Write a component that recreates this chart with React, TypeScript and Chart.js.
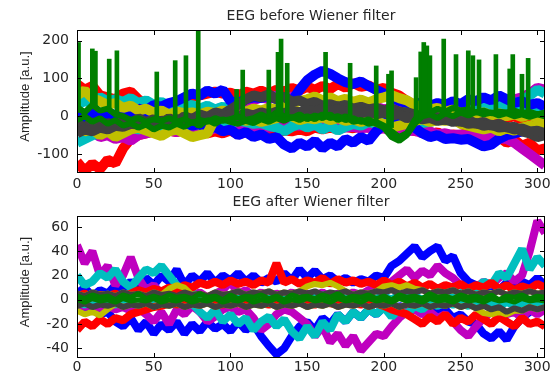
import React, { useEffect, useRef } from "react";
import { Chart, registerables } from "chart.js";

Chart.register(...registerables);

// ---- x grid (time) ----
const X = [
  0, 5, 10, 15, 20, 25, 30, 35, 40, 45,
  50, 55, 60, 65, 70, 75, 80, 85, 90, 95,
  100, 105, 110, 115, 120, 125, 130, 135, 140, 145,
  150, 155, 160, 165, 170, 175, 180, 185, 190, 195,
  200, 205, 210, 215, 220, 225, 230, 235, 240, 245,
  250, 255, 260, 265, 270, 275, 280, 285, 290, 295,
  300, 305,
];

// ---- EEG before Wiener filter ----
const T_RED_1 = [
  85, 70, 80, 55, 50, 45, 60, 65, 45, 30,
  25, 28, 32, 38, 45, 52, 55, 60, 65, 60,
  62, 55, 65, 60, 68, 60, 70, 65, 75, 68,
  78, 70, 80, 72, 85, 75, 88, 78, 82, 70,
  75, 62, 55, 40, 30, 25, 20, 25, 15, 20,
  10, 15, 5, 10, 0, 5, -5, 0, -10, -5,
  -15, -10,
];
const T_RED_2 = [
  -120, -145, -125, -140, -115, -125, -85, -60, -50, -45,
  -40, -45, -38, -42, -35, -40, -38, -45, -40, -45,
  -38, -48, -42, -50, -45, -40, -45, -38, -40, -35,
  -40, -30, -35, -30, -35, -28, -32, -25, -30, -25,
  -28, -20, -25, -30, -40, -35, -50, -42, -55, -48,
  -50, -42, -55, -48, -62, -55, -70, -62, -78, -70,
  -90, -85,
];
const T_MAG_1 = [
  -15, -25, -10, -20, -5, -15, 0, -10, 5, -5,
  8, 0, 10, 5, 12, 8, 15, 10, 18, 22,
  20, 28, 35, 42, 50, 45, 55, 48, 52, 42,
  35, 38, 30, 35, 28, 30, 25, 28, 20, 25,
  18, 22, 15, 20, 25, 30, 25, 30, 22, 28,
  25, 30, 28, 32, 30, 35, 40, 45, 50, 60,
  75, 70,
];
const T_MAG_2 = [
  -35, -45, -40, -55, -50, -60, -55, -65, -50, -45,
  -40, -45, -38, -42, -35, -40, -35, -38, -32, -35,
  -30, -35, -28, -32, -25, -30, -25, -28, -22, -25,
  -20, -25, -22, -28, -25, -30, -28, -32, -30, -35,
  -32, -38, -35, -40, -38, -45, -40, -48, -45, -50,
  -48, -52, -50, -55, -55, -58, -60, -70, -85, -100,
  -115, -130,
];
const T_CYAN_1 = [
  30, 40, 35, 50, 40, 45, 38, 48, 35, 42,
  30, 38, 28, 35, 25, 30, 20, 28, 18, 25,
  15, 20, 10, 15, 5, 10, 0, 5, -5, 0,
  -5, 2, -3, 5, 0, 8, 2, 10, 5, 12,
  8, 15, 10, 12, 5, 10, 2, 8, 0, 5,
  10, 15, 20, 25, 20, 30, 25, 35, 40, 55,
  70, 60,
];
const T_CYAN_2 = [
  -70, -60, -50, -45, -40, -35, -38, -30, -35, -28,
  -32, -25, -30, -22, -25, -20, -22, -18, -20, -15,
  -18, -12, -15, -20, -18, -25, -30, -40, -28, -20,
  -30, -22, -35, -25, -38, -28, -20, -25, -15, -20,
  -10, -15, -5, -10, -12, -18, -15, -10, -5, -10,
  0, -5, 5, 0, 10, 5, 15, 10, 20, 15,
  25, 20,
];
const T_BLUE_1 = [
  5, -5, 8, 0, 10, 2, 12, 5, 20, 15,
  30, 25, 35, 40, 50, 60, 55, 68, 60, 70,
  40, 35, 45, 50, 48, 55, 45, 50, 40, 70,
  95, 110, 120, 112, 100, 90, 85, 92, 80, 70,
  60, 50, 40, 35, 30, 38, 28, 35, 30, 40,
  32, 45, 40, 50, 42, 55, 45, 35, 40, 30,
  35, 25,
];
const T_BLUE_2 = [
  -15, -5, -12, -2, -10, -3, -8, 5, -5, 8,
  0, 10, 2, -5, -15, -25, -20, -35, -28, -40,
  -35, -50, -42, -55, -48, -60, -55, -75, -85, -70,
  -80, -65, -85, -70, -80, -60, -70, -55, -65, -40,
  -20, -10, -5, -15, -30, -45, -55, -50, -60, -58,
  -62, -60, -70, -80, -75, -60, -50, -45, -40, -35,
  -30, -25,
];
const T_YEL_1 = [
  55, 68, 48, 40, 30, 35, 22, 28, 15, 20,
  10, 15, 5, 12, 8, 10, 5, 12, 8, 15,
  10, 18, 12, 20, 15, 22, 18, 28, 32, 40,
  45, 52, 42, 50, 40, 46, 38, 44, 36, 45,
  50, 56, 48, 42, 30, 25, 18, 22, 12, 18,
  8, 12, 5, 10, 2, 8, 0, 5, -2, 4,
  -5, 0,
];
const T_YEL_2 = [
  -30, -40, -35, -50, -40, -55, -45, -35, -30, -38,
  -45, -52, -40, -35, -45, -55, -50, -45, -5, 5,
  -10, -5, -12, -8, -15, -10, -5, 5, 0, -10,
  -5, -8, -2, -10, -5, -12, -8, -15, -10, -15,
  -20, -30, -25, -20, -12, -8, -15, -10, -12, -8,
  -20, -25, -30, -35, -30, -40, -32, -38, -30, -25,
  -30, -20,
];
const T_GRAY_1 = [
  -20, -30, -15, -28, -18, -25, -10, -20, -5, -15,
  -8, -18, -5, -15, 0, -8, 5, -2, 10, 5,
  18, 30, 45, 55, 50, 58, 45, 52, 38, 42,
  32, 38, 28, 32, 25, 30, 20, 25, 18, 22,
  15, 20, 12, 10, 5, 0, -5, -2, -10, -5,
  -15, -10, -20, -15, -25, -20, -30, -28, -40, -45,
  -55, -50,
];
const T_GRAY_2 = [
  -45, -35, -40, -30, -35, -25, -28, -20, -22, -15,
  -20, -12, -15, -8, -12, -5, -10, -2, -8, 0,
  5, 0, 8, 2, 10, 5, 12, 8, 15, 10,
  18, 12, 20, 15, 18, 12, 15, 8, 12, 5,
  10, 2, 5, -5, 0, -8, -5, -12, -8, -15,
  -12, -20, -18, -25, -22, -30, -28, -35, -32, -40,
  -38, -45,
];
const T_GREEN_1 = [
  25, 10, 30, 15, 20, 5, 0, -10, -5, -15,
  -8, -12, -5, -15, -8, -18, -10, -15, -5, -12,
  -8, 0, -10, -5, 5, -5, 10, 0, -5, 5,
  -8, 2, -5, 5, -10, 0, -15, -10, -20, -15,
  -25, -40, -55, -45, -10, 15, 10, 20, 12, 22,
  15, 18, 10, 15, 8, 12, 10, 15, 8, 12,
  5, 10,
];
const T_GREEN_2 = [
  -10, 0, -15, -5, -20, -10, -25, -18, -30, -22,
  -35, -25, -30, -20, -28, -15, -25, -10, -20, -8,
  -15, -20, -12, -18, -8, -15, -5, -12, -2, -10,
  0, -8, 5, -5, 0, -10, -5, -15, -8, -20,
  -30, -55, -65, -50, -20, 0, 5, -5, 8, 0,
  10, 2, 12, 5, 10, 2, 8, 0, 5, -2,
  5, 0,
];
// green artefact spikes (time, base, peak)
const SPIKE_X = [1, 10, 12, 21, 26, 52, 64, 71, 79, 104, 108, 125, 131, 133, 137, 162, 178, 195, 203, 205, 221, 224, 226, 228, 230, 239, 247, 255, 258, 262, 273, 282, 284, 290, 294];
const SPIKE_BASE = [10, 20, 20, 15, 5, -10, -10, -15, -30, 0, -5, -5, 0, 0, 0, -5, -10, -15, -30, -30, -10, 10, 10, 10, 10, 15, 15, 15, 15, 10, 10, 10, 10, 10, 10];
const SPIKE_TOP = [195, 178, 172, 151, 173, 117, 147, 160, 230, 71, 122, 122, 169, 204, 140, 169, 140, 133, 111, 120, 102, 170, 195, 186, 160, 204, 163, 173, 160, 149, 163, 125, 163, 111, 153];

// ---- EEG after Wiener filter ----
const B_BLUE_1 = [
  5, 10, 3, 8, 5, 12, 8, 15, 10, 18,
  12, 20, 15, 25, 12, 20, 15, 22, 14, 20,
  16, 22, 15, 20, 14, 18, 15, 22, 16, 25,
  18, 24, 17, 20, 15, 18, 14, 17, 15, 20,
  18, 28, 32, 38, 44, 35, 40, 44, 32, 36,
  22, 15, 12, 10, 12, 8, 14, 10, 15, 12,
  18, 12,
];
const B_BLUE_2 = [
  -5, -10, -8, -12, -10, -18, -22, -15, -25, -18,
  -28, -20, -25, -18, -28, -20, -26, -18, -24, -20,
  -26, -18, -25, -20, -30, -38, -45, -40, -30, -22,
  -18, -25, -15, -20, -12, -18, -10, -15, -8, -12,
  -6, -10, -5, -8, -5, -10, -6, -12, -8, -15,
  -12, -18, -20, -28, -32, -26, -33, -22, -15, -10,
  -8, -5,
];
const B_MAG_1 = [
  45, 30, 40, 20, 28, 12, 20, 35, 18, 8,
  12, 5, 10, 4, 8, 3, 6, 2, 5, 8,
  15, 5, 8, 3, 6, 2, 5, 3, 6, 2,
  5, 3, 6, 2, 5, 3, 6, 4, 8, 10,
  12, 15, 20, 25, 18, 24, 20, 28, 22, 18,
  12, 8, 10, 15, 12, 18, 22, 15, 20, 40,
  65, 55,
];
const B_MAG_2 = [
  -3, -6, -4, -7, -5, -8, -6, -9, -7, -12,
  -18, -10, -20, -8, -12, -5, -10, -18, -14, -8,
  -6, -10, -8, -15, -25, -20, -12, -8, -10, -15,
  -20, -30, -22, -35, -28, -38, -30, -42, -35, -28,
  -30, -22, -15, -10, -8, -12, -10, -15, -12, -18,
  -25, -30, -22, -15, -10, -8, -12, -10, -15, -8,
  -12, -8,
];
const B_CYAN_1 = [
  20, 12, 15, 22, 18, 25, 15, 10, 18, 25,
  22, 28, 20, 12, 8, 5, 3, 2, 4, 1,
  3, 0, 3, 1, 4, 0, 3, 1, 3, 0,
  3, 1, 4, 0, 3, 1, 3, 0, 2, 1,
  3, 0, 4, 1, 3, 0, 2, 1, 3, 2,
  5, 10, 8, 15, 12, 22, 18, 30, 42, 25,
  35, 28,
];
const B_CYAN_2 = [
  -2, -4, -1, -3, -2, -4, -1, -3, -2, -4,
  -1, -3, -2, -4, -1, -3, -10, -15, -8, -18,
  -12, -20, -15, -25, -18, -14, -22, -16, -26, -32,
  -22, -30, -18, -25, -12, -18, -10, -15, -8, -12,
  -6, -14, -8, -12, -5, -8, -3, -5, -2, -4,
  -3, -5, -2, -4, -3, -5, -2, -4, -3, -5,
  -2, -4,
];
const B_RED_1 = [
  3, 5, 2, 4, 3, 5, 2, 5, 8, 6,
  9, 7, 10, 8, 12, 10, 14, 12, 15, 12,
  16, 13, 15, 12, 16, 14, 30, 14, 17, 13,
  16, 14, 18, 13, 17, 14, 16, 13, 15, 12,
  16, 12, 15, 11, 14, 10, 13, 9, 12, 10,
  13, 9, 12, 10, 14, 9, 12, 8, 11, 9,
  13, 10,
];
const B_RED_2 = [
  -25, -18, -22, -16, -20, -15, -17, -12, -10, -8,
  -6, -5, -3, -4, -2, -3, -4, -2, -3, -4,
  -2, -3, -4, -2, -3, -4, -2, -3, -4, -2,
  -3, -4, -2, -3, -4, -2, -3, -4, -2, -3,
  -5, -8, -10, -12, -16, -20, -14, -18, -12, -20,
  -15, -18, -12, -16, -20, -14, -18, -22, -15, -20,
  -18, -22,
];
const B_YEL_1 = [
  5, 3, 6, 4, 5, 3, 6, 4, 5, 3,
  6, 4, 9, 12, 10, 4, 5, 3, 6, 4,
  5, 7, 4, 6, 5, 7, 4, 6, 5, 7,
  11, 13, 12, 14, 11, 7, 4, 6, 5, 7,
  11, 12, 10, 12, 9, 8, 5, 7, 6, 8,
  5, 7, 4, 6, 5, 7, 4, 6, 5, 7,
  5, 6,
];
const B_YEL_2 = [
  -9, -12, -10, -13, -8, -3, -6, -4, -5, -3,
  -6, -4, -5, -3, -6, -4, -5, -3, -6, -4,
  -5, -3, -6, -4, -5, -3, -6, -4, -5, -3,
  -6, -4, -5, -3, -6, -4, -5, -3, -6, -4,
  -5, -3, -6, -4, -5, -3, -6, -4, -5, -3,
  -6, -4, -7, -11, -12, -10, -12, -9, -9, -6,
  -8, -6,
];
const B_GRAY_1 = [
  5, 3, 6, 4, 5, 3, 6, 4, 5, 3,
  6, 4, 5, 3, 6, 4, 5, 3, 6, 4,
  5, 7, 4, 6, 5, 7, 4, 6, 5, 7,
  5, 7, 4, 6, 5, 7, 4, 6, 5, 7,
  6, 8, 5, 7, 6, 8, 5, 7, 6, 8,
  5, 7, 4, 6, 5, 7, 4, 6, 5, 7,
  5, 6,
];
const B_GRAY_2 = [
  -5, -3, -6, -4, -5, -3, -6, -4, -5, -3,
  -6, -4, -5, -3, -6, -4, -5, -3, -6, -4,
  -5, -3, -6, -4, -5, -3, -6, -4, -5, -3,
  -6, -4, -5, -3, -6, -4, -5, -3, -6, -4,
  -5, -3, -6, -4, -5, -3, -6, -4, -5, -3,
  -6, -4, -7, -5, -8, -6, -10, -7, -9, -6,
  -8, -6,
];
const B_GREEN_1 = [
  3, 1, 4, 2, 3, 0, 4, 2, 5, 1,
  3, 1, 4, 2, 3, 1, 5, 2, 3, 0,
  4, 1, 3, 2, 4, 1, 3, 0, 4, 2,
  3, 1, 4, 2, 5, 1, 3, 2, 4, 1,
  3, 0, 4, 2, 3, 1, 5, 2, 3, 1,
  4, 2, 3, 1, 4, 0, 3, 2, 4, 1,
  3, 2,
];
const B_GREEN_2 = [
  0, -2, 1, -1, 0, -2, 1, -1, 0, -1,
  1, -2, 0, -1, 1, -2, 0, -1, 1, -2,
  0, -1, 1, -2, 0, -1, 1, -2, 0, -1,
  1, -1, 0, -2, 1, -1, 0, -2, 1, -1,
  0, -2, 1, -1, 0, -2, 1, -1, 0, -2,
  1, -1, 0, -2, 1, -1, 0, -2, 1, -1,
  0, -1,
];

const X_TICK_STEP = 50;
const Y_LABEL = "Amplitude [a.u.]";
const TITLE_TOP = "EEG before Wiener filter";
const TITLE_BOTTOM = "EEG after Wiener filter";

const C = {
  blue: "#0000ff",
  red: "#ff0000",
  green: "#007f00",
  cyan: "#00bfbf",
  magenta: "#bf00bf",
  yellow: "#bfbf00",
  gray: "#404040",
};

const TEXT = "#262626";
const TICK_FONT = { family: "'DejaVu Sans', sans-serif", size: 14 };

function line(vals: number[], color: string, width: number) {
  return {
    type: "line" as const,
    data: X.map((x, i) => ({ x, y: vals[i] })),
    borderColor: color,
    backgroundColor: color,
    borderWidth: width,
    pointRadius: 0,
    tension: 0,
    fill: false,
    clip: 0,
    borderJoinStyle: "bevel" as const,
  };
}

const boxPlugin = {
  id: "matlabBox",
  afterDraw(chart: any, _args: any, opts: any) {
    const { ctx, chartArea } = chart;
    const { left, right, top, bottom } = chartArea;
    const xs = chart.scales.x;
    const ys = chart.scales.y;
    ctx.save();
    ctx.strokeStyle = "#000";
    ctx.lineWidth = 1;
    ctx.strokeRect(left + 0.5, top + 0.5, right - left - 1, bottom - top - 1);
    const L = 5;
    ctx.beginPath();
    xs.ticks.forEach((t: any) => {
      const px = Math.round(xs.getPixelForValue(t.value)) + 0.5;
      ctx.moveTo(px, bottom);
      ctx.lineTo(px, bottom - L);
      ctx.moveTo(px, top);
      ctx.lineTo(px, top + L);
    });
    ys.ticks.forEach((t: any) => {
      const py = Math.round(ys.getPixelForValue(t.value)) + 0.5;
      ctx.moveTo(left, py);
      ctx.lineTo(left + L, py);
      ctx.moveTo(right, py);
      ctx.lineTo(right - L, py);
    });
    ctx.stroke();
    // y axis label
    ctx.fillStyle = TEXT;
    ctx.font = "13px 'Liberation Sans', Arial, sans-serif";
    ctx.textAlign = "center";
    ctx.textBaseline = "middle";
    ctx.translate(opts.labelX, (top + bottom) / 2 + opts.labelDy);
    ctx.rotate(-Math.PI / 2);
    ctx.fillText(opts.label, 0, 0);
    ctx.restore();
  },
};

type PanelProps = {
  title: string;
  datasets: any[];
  ymin: number;
  ymax: number;
  ystep: number;
  titlePadTop: number;
  titlePadBottom: number;
  xAxisHeight: number;
  xLabelPad: number;
  top: number;
};

function Panel(p: PanelProps) {
  const ref = useRef<HTMLCanvasElement>(null);
  useEffect(() => {
    const n = p.datasets.length;
    const ds = p.datasets.map((d, i) => ({ ...d, order: n - i }));
    const chart = new Chart(ref.current as HTMLCanvasElement, {
      type: "line",
      data: { datasets: ds },
      plugins: [boxPlugin],
      options: {
        responsive: false,
        animation: false,
        events: [],
        layout: { padding: { left: 0, right: 13, top: 0, bottom: 0 } },
        plugins: {
          legend: { display: false },
          tooltip: { enabled: false },
          title: {
            display: true,
            fullSize: false,
            text: p.title,
            color: TEXT,
            font: { family: "'DejaVu Sans', sans-serif", size: 14, weight: "normal" },
            padding: { top: p.titlePadTop, bottom: p.titlePadBottom },
          },
          matlabBox: { label: Y_LABEL, labelX: 25, labelDy: -5 },
        } as any,
        scales: {
          x: {
            type: "linear",
            min: 0,
            max: 305,
            offset: false,
            grid: { display: false, drawTicks: false, offset: false },
            border: { display: false },
            ticks: {
              stepSize: X_TICK_STEP,
              includeBounds: false,
              color: TEXT,
              font: TICK_FONT,
              padding: p.xLabelPad,
              maxRotation: 0,
            },
            afterFit: (s: any) => {
              s.height = p.xAxisHeight;
            },
          },
          y: {
            type: "linear",
            min: p.ymin,
            max: p.ymax,
            grid: { display: false, drawTicks: false },
            border: { display: false },
            ticks: {
              stepSize: p.ystep,
              includeBounds: false,
              color: TEXT,
              font: TICK_FONT,
              padding: 8,
            },
            afterFit: (s: any) => {
              s.width = 77;
            },
          },
        },
      } as any,
    });
    return () => chart.destroy();
  }, []);
  return (
    <canvas
      ref={ref}
      width={558}
      height={190}
      style={{ position: "absolute", left: 0, top: p.top, width: 558, height: 190 }}
    />
  );
}

export default function App() {
  const WT = 10;
  const WB = 8;
  const topSets = [
    line(T_RED_1, C.red, WT),
    line(T_RED_2, C.red, WT),
    line(T_MAG_1, C.magenta, WT),
    line(T_MAG_2, C.magenta, WT),
    line(T_CYAN_1, C.cyan, WT),
    line(T_CYAN_2, C.cyan, WT),
    line(T_BLUE_1, C.blue, WT),
    line(T_BLUE_2, C.blue, WT),
    line(T_YEL_1, C.yellow, WT),
    line(T_YEL_2, C.yellow, WT),
    line(T_GRAY_1, C.gray, WT),
    line(T_GRAY_2, C.gray, WT),
    line(T_GREEN_1, C.green, 6),
    line(T_GREEN_2, C.green, 6),
    {
      type: "bar" as const,
      data: SPIKE_X.map((x, i) => ({ x, y: [SPIKE_BASE[i], SPIKE_TOP[i]] })),
      backgroundColor: C.green,
      borderWidth: 0,
      barThickness: 4,
      clip: 0,
    },
  ];
  const bottomSets = [
    line(B_BLUE_1, C.blue, WB),
    line(B_BLUE_2, C.blue, WB),
    line(B_MAG_1, C.magenta, WB),
    line(B_MAG_2, C.magenta, WB),
    line(B_CYAN_1, C.cyan, WB),
    line(B_CYAN_2, C.cyan, WB),
    line(B_RED_1, C.red, WB),
    line(B_RED_2, C.red, WB),
    line(B_YEL_1, C.yellow, 6),
    line(B_YEL_2, C.yellow, 6),
    line(B_GRAY_1, C.gray, 6),
    line(B_GRAY_2, C.gray, 6),
    line(B_GREEN_1, C.green, 5),
    line(B_GREEN_2, C.green, 5),
  ];
  return (
    <div style={{ position: "absolute", left: 0, top: 0, width: 558, height: 380, background: "#fff" }}>
      <Panel
        title={TITLE_TOP}
        datasets={topSets}
        ymin={-150}
        ymax={228}
        ystep={100}
        titlePadTop={8}
        titlePadBottom={5.2}
        xAxisHeight={17}
        xLabelPad={3}
        top={0}
      />
      <Panel
        title={TITLE_BOTTOM}
        datasets={bottomSets}
        ymin={-48}
        ymax={69}
        ystep={20}
        titlePadTop={3.5}
        titlePadBottom={5.7}
        xAxisHeight={22}
        xLabelPad={1}
        top={190}
      />
    </div>
  );
}
